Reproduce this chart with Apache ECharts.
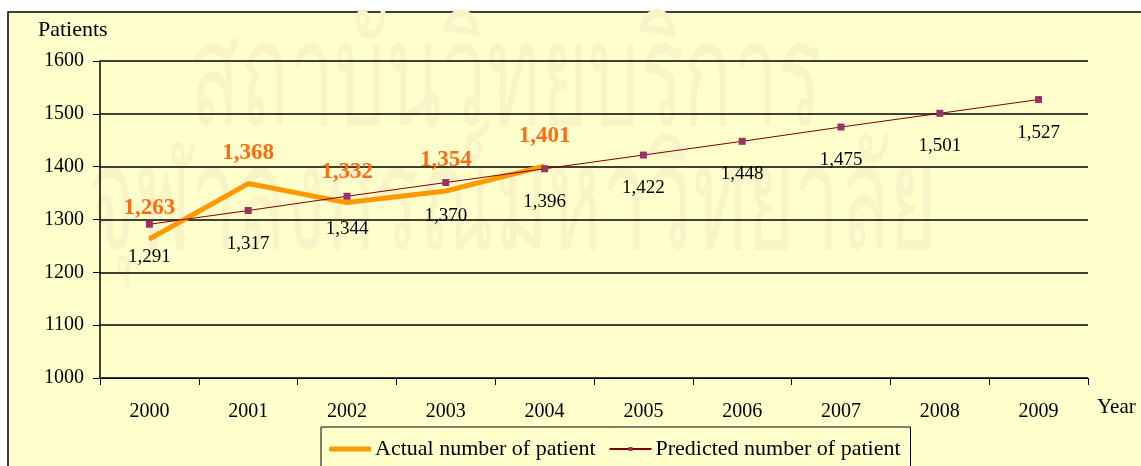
<!DOCTYPE html>
<html><head><meta charset="utf-8">
<script src="https://cdn.jsdelivr.net/npm/echarts@6/dist/echarts.min.js"></script>
<style>html,body{margin:0;padding:0;background:#fff}#c{width:1141px;height:466px}</style>
</head><body><div id="c"></div>
<script>
const years = ['2000','2001','2002','2003','2004','2005','2006','2007','2008','2009'];
const actual = [1263, 1368, 1332, 1354, 1401, null, null, null, null, null];
const predicted = [1291, 1317, 1344, 1370, 1396, 1422, 1448, 1475, 1501, 1527];
const yTicks = [1000, 1100, 1200, 1300, 1400, 1500, 1600];

const serif = '"Liberation Serif", "Times New Roman", serif';
const chart = echarts.init(document.getElementById('c'));
chart.setOption({
  backgroundColor: '#ffffff',
  animation: false,
  graphic: [
    {type:'rect', z:-10, shape:{x:8, y:12, width:1150, height:470}, style:{fill:'#FFFFCC', stroke:'#000', lineWidth:1.5}},
    {type:'text', z:-5, x:190, y:84, scaleX:0.56, style:{text:'สถาบันวิทยบริการ', font:'145px "Noto Sans", sans-serif', fill:'#F9F4C8', verticalAlign:'middle'}},
    {type:'text', z:-5, x:88, y:208, scaleX:0.56, style:{text:'จุฬาลงกรณ์มหาวิทยาลัย', font:'145px "Noto Sans", sans-serif', fill:'#F9F4C8', verticalAlign:'middle'}},
    {type:'text', left:38, top:19, style:{text:'Patients', font:'22px ' + serif, fill:'#000'}},
    {type:'text', left:1097, top:397, style:{text:'Year', font:'21px ' + serif, fill:'#000'}}
  ],
  grid: {left:100, right:53, top:61, bottom:88},
  legend: {
    top: 427, left: 321,
    backgroundColor:'#FFFFCC',
    borderColor:'#000', borderWidth:1, padding:[11,10,20,8],
    itemGap: 13, itemWidth: 42, itemHeight: 5,
    textStyle:{fontFamily:serif, fontSize:22, color:'#000', padding:[0,0,0,-1]},
    data:[
      {name:'Actual number of patient', icon:'roundRect', itemStyle:{color:'#FF9900'}},
      {name:'Predicted number of patient'}
    ]
  },
  xAxis: {
    type:'category', data: years, boundaryGap:true,
    axisLine:{lineStyle:{color:'#000', width:1}},
    axisTick:{show:true, length:7, lineStyle:{color:'#000'}},
    axisLabel:{fontFamily:serif, fontSize:20, color:'#000', margin:24},
    splitLine:{show:false}
  },
  yAxis: {
    type:'value', min: yTicks[0], max: yTicks[yTicks.length-1], interval:100,
    axisLine:{show:true, lineStyle:{color:'#000', width:1.5}},
    axisTick:{show:true, length:7, lineStyle:{color:'#000'}},
    axisLabel:{fontFamily:serif, fontSize:20, color:'#000', margin:16, formatter: v => String(v)},
    splitLine:{lineStyle:{color:'#000', width:1.5}}
  },
  series: [
    {
      name:'Actual number of patient', type:'line', data: actual,
      symbol:'circle', symbolSize:2, showAllSymbol:true,
      lineStyle:{color:'#FF9900', width:5}, itemStyle:{color:'#FF9900'},
      z:3,
      label:{show:true, position:'top', distance:18, fontFamily:serif, fontSize:23, fontWeight:'bold', color:'#FF6A14',
        formatter: p => p.value == null ? '' : p.value.toLocaleString('en-US')}
    },
    {
      name:'Predicted number of patient', type:'line', data: predicted,
      symbol:'rect', symbolSize:7, showAllSymbol:true,
      lineStyle:{color:'#800000', width:1}, itemStyle:{color:'#993366'},
      z:4,
      label:{show:true, position:'bottom', distance:20, fontFamily:serif, fontSize:19, color:'#000',
        formatter: p => p.value.toLocaleString('en-US')}
    }
  ]
});
</script></body></html>
